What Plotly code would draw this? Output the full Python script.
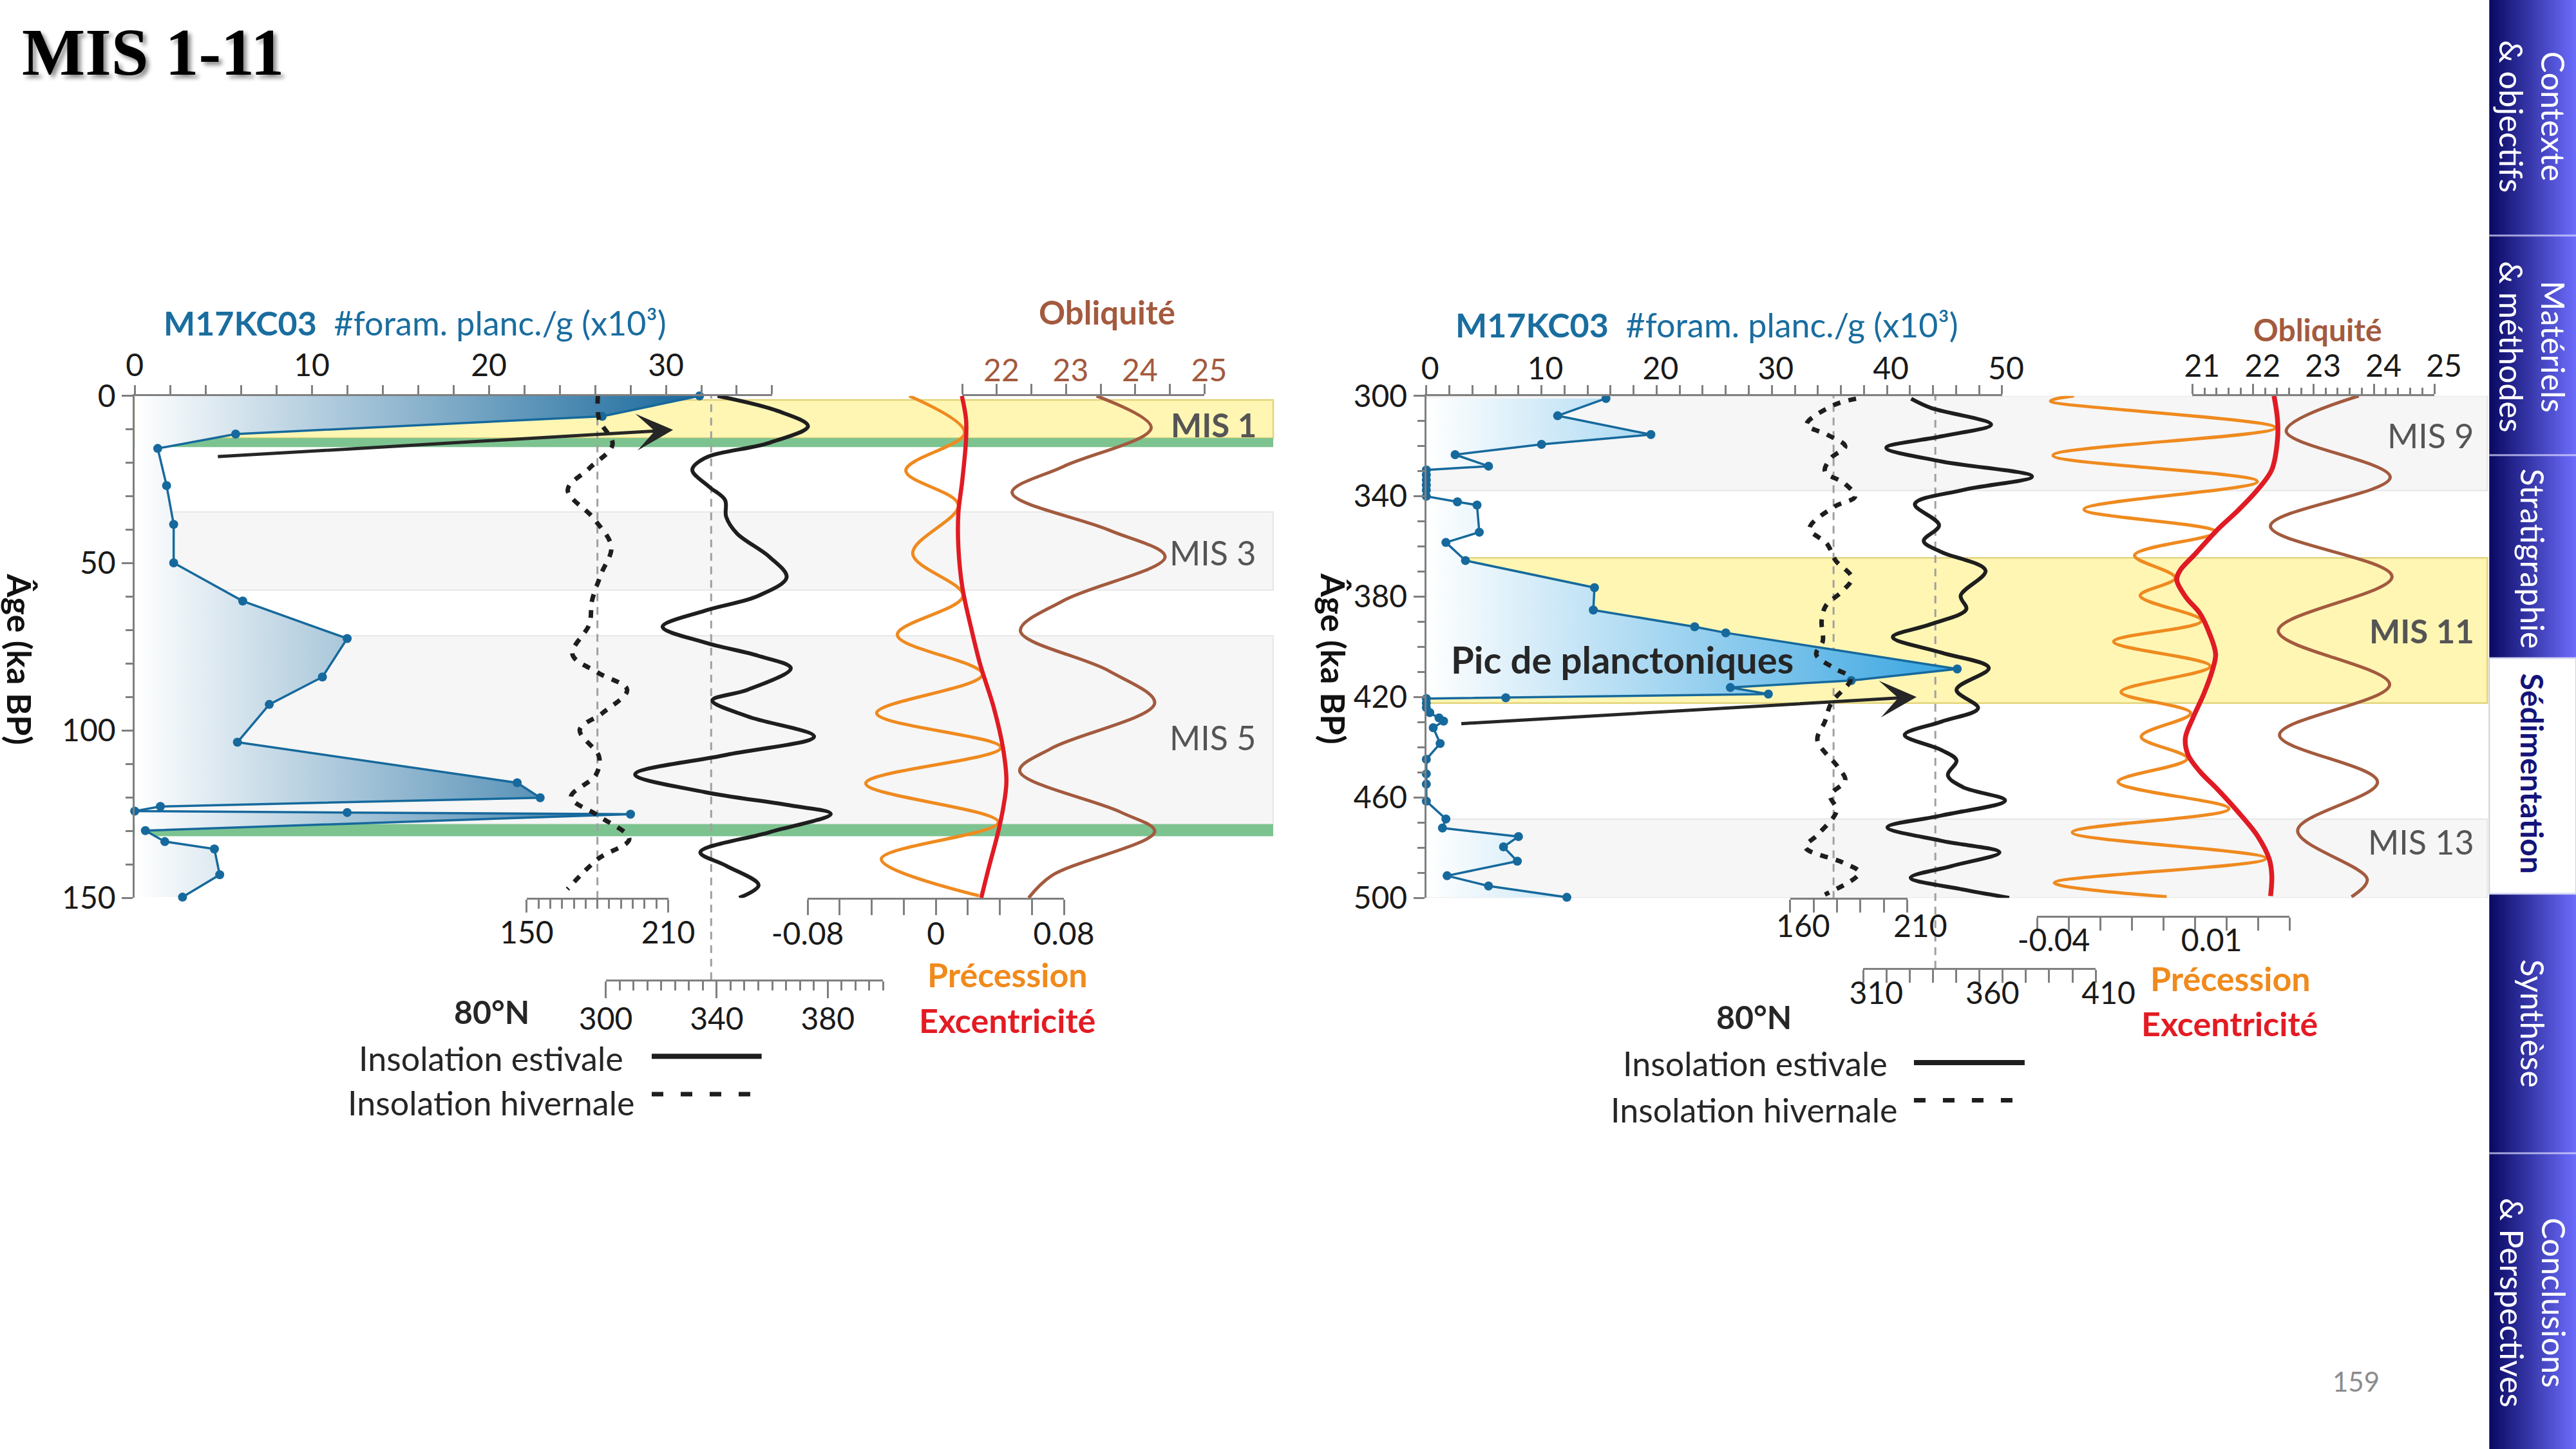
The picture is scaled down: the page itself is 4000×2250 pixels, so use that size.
import numpy as np
import plotly.graph_objects as go

# ---------------- DATA ----------------
# Left panel (MIS 1-5), ages in ka BP
L_foram_age = [0, 6.1, 11.4, 15.7, 26.8, 38.4, 49.9, 61.3, 72.5, 84.0, 92.2, 103.5, 115.6, 120.1,
               122.7, 124.1, 124.5, 125.0, 129.9, 133.2, 135.4, 143.1, 149.8]
L_foram_val = [31.9, 26.4, 5.7, 1.3, 1.8, 2.2, 2.2, 6.1, 12.0, 10.6, 7.6, 5.8, 21.6, 22.9,
               1.45, 0.0, 12.0, 28.0, 0.6, 1.7, 4.5, 4.8, 2.7]

L_winter_age = [0, 7.0, 14.5, 21.6, 28.1, 36.6, 45.1, 53.2, 61.2, 68.2, 77.2, 82.7, 87.8, 94.8,
                99.8, 107.8, 113.3, 119.9, 125.4, 132.4, 138.4, 147.4]
L_winter_val = [180.2, 180.7, 186.4, 176.6, 167.4, 178.4, 185.9, 181.6, 177.7, 176.6, 169.4, 180.2,
                192.6, 182.1, 172.5, 180.7, 179.3, 168.8, 180.2, 193.5, 180.2, 167.3]

L_summer_age = [0, 4.5, 9.0, 14.0, 18.6, 22.1, 27.1, 31.1, 36.1, 41.1, 48.1, 54.2, 59.7, 64.2, 69.0,
                73.7, 77.7, 81.4, 87.8, 91.0, 95.8, 101.8, 107.3, 113.1, 118.4, 122.4, 124.9, 130.4,
                136.4, 140.4, 146.2, 150.0]
L_summer_val = [340.3, 362.0, 372.9, 359.0, 335.7, 331.2, 337.2, 343.0, 343.4, 347.3, 359.0, 365.2,
                355.1, 335.7, 320.5, 335.7, 355.1, 366.7, 351.2, 338.4, 351.2, 375.1, 343.4, 310.6,
                335.7, 366.7, 381.1, 359.0, 334.1, 343.4, 355.1, 348.1]

L_prec_age = [0, 11.0, 22.3, 32.6, 47.1, 59.7, 71.4, 83.2, 94.8, 105.1, 115.8, 127.4, 138.4, 149.4]
L_prec_val = [-0.0166, 0.0180, -0.0187, 0.0141, -0.0144, 0.0170, -0.0240, 0.0291, -0.0369, 0.0406,
              -0.0437, 0.0391, -0.0340, 0.0270]

L_ecc_age = [0, 7.0, 13.0, 25.1, 35.1, 45.1, 57.2, 69.2, 80.2, 93.3, 105.3, 115.3, 123.4, 131.4, 140.4, 150.0]
L_ecc_val = [0.0163, 0.0189, 0.0189, 0.0166, 0.0141, 0.0141, 0.0166, 0.0220, 0.0277, 0.0363, 0.0420,
             0.0441, 0.0420, 0.0384, 0.0334, 0.0284]

L_obl_age = [0, 9.5, 21.1, 28.9, 40.1, 48.1, 61.2, 70.2, 82.2, 91.8, 105.3, 112.1, 124.4, 130.2, 143.4, 150.0]
L_obl_val = [23.44, 24.23, 22.96, 22.22, 23.62, 24.43, 22.96, 22.34, 23.62, 24.28, 22.79, 22.33,
             23.79, 24.28, 22.79, 22.46]

# Right panel (MIS 9-13)
R_foram_age = [301.0, 307.9, 315.4, 319.3, 323.4, 328.0, 329.5, 331.5, 333.5, 335.5, 337.5, 340.0,
               342.2, 343.5, 354.3, 358.4, 365.6, 376.4, 385.3, 392.0, 394.4, 408.8, 413.4, 416.2,
               418.8, 420.3, 420.6, 422.4, 424.2, 426.2, 428.3, 429.6, 432.2, 438.5, 444.8, 450.6,
               454.7, 461.5, 468.6, 472.2, 475.6, 479.7, 485.4, 491.2, 495.3, 499.8]
R_foram_val = [15.6, 11.4, 19.5, 10.0, 2.5, 5.4, 0, 0, 0, 0, 0, 0,
               2.7, 4.4, 4.6, 1.7, 3.4, 14.6, 14.5, 23.3, 26.0, 46.1, 36.9, 26.4,
               29.7, 6.9, 0, 0, 0, 0.3, 1.1, 1.5, 0.6, 1.2, 0, 0,
               0, 0, 1.7, 1.4, 8.0, 6.7, 7.9, 1.8, 5.4, 12.2]

R_winter_age = [301.1, 303.7, 311.4, 315.4, 320.1, 324.7, 330.1, 334.8, 340.1, 344.1, 352.8, 358.9,
                365.6, 372.5, 377.9, 383.6, 389.6, 397.7, 403.0, 408.4, 412.6, 422.4, 429.8, 437.1,
                447.8, 453.2, 459.2, 465.2, 474.6, 479.9, 486.0, 490.0, 498.7]
R_winter_val = [188.1, 178.5, 167.0, 175.7, 183.5, 177.5, 174.8, 183.1, 187.7, 178.9, 168.3, 175.7,
                179.4, 186.3, 182.1, 175.2, 173.4, 173.9, 171.1, 178.5, 185.8, 177.5, 174.8, 171.6,
                180.3, 183.5, 177.1, 179.8, 172.0, 166.5, 182.6, 189.5, 174.8]

R_summer_age = [301.1, 304.7, 311.4, 316.1, 320.7, 326.1, 332.1, 337.5, 343.1, 351.5, 357.8, 362.2,
                369.6, 379.6, 385.0, 391.0, 396.1, 402.3, 408.4, 417.1, 424.4, 429.8, 435.1, 441.1,
                445.2, 451.2, 455.9, 461.2, 467.2, 471.9, 477.3, 481.9, 487.3, 492.0, 496.7, 500.0]
R_summer_val = [330.6, 338.9, 365.0, 343.6, 319.9, 343.6, 382.6, 352.9, 332.2, 342.6, 336.0, 343.6,
                362.6, 351.9, 354.3, 338.9, 322.7, 343.6, 364.0, 350.1, 359.4, 343.6, 327.8, 343.6,
                350.1, 346.4, 352.9, 371.0, 343.6, 320.4, 343.6, 368.6, 348.2, 330.4, 352.9, 372.8]

R_prec_age = [300.0, 302.0, 312.7, 323.7, 334.1, 345.2, 354.2, 363.5, 372.5, 379.6, 389.6, 397.9,
              407.7, 418.0, 426.4, 435.8, 444.5, 453.8, 464.5, 473.9, 484.3, 494.0, 499.6]
R_prec_val = [-0.0283, -0.0357, 0.0355, -0.0349, 0.0298, -0.0251, 0.0166, -0.0091, 0.0038, -0.0073,
              0.0121, -0.0157, 0.0149, -0.0134, 0.0087, -0.0070, 0.0076, -0.0143, 0.0208, -0.0288,
              0.0325, -0.0345, 0.0011]

R_ecc_age = [300.0, 309.4, 317.4, 329.4, 337.5, 345.5, 353.5, 362.9, 369.6, 373.4, 380.2, 386.8, 394.8,
             402.9, 409.6, 418.9, 428.3, 436.4, 443.1, 449.8, 456.5, 465.9, 475.2, 484.6, 491.3, 499.3]
R_ecc_val = [0.0351, 0.0362, 0.0362, 0.0344, 0.0298, 0.0238, 0.0170, 0.0102, 0.0053, 0.0043, 0.0072,
             0.0117, 0.0147, 0.0166, 0.0155, 0.0128, 0.0094, 0.0070, 0.0079, 0.0117, 0.0170, 0.0238,
             0.0298, 0.0336, 0.0344, 0.0340]

R_obl_age = [300, 314.0, 332.4, 351.9, 372.0, 393.6, 415.0, 435.1, 453.8, 473.2, 492.6, 499.6]
R_obl_val = [23.75, 22.55, 24.27, 22.29, 24.30, 22.42, 24.26, 22.44, 24.06, 22.74, 23.89, 23.63]

# Reference (dashed) insolation levels
L_winter_ref, L_summer_ref = 180.0, 338.0
R_winter_ref, R_summer_ref = 178.5, 341.0

# Marine isotope stage bands (age ranges)
L_bands = [("yellow", 1.2, 12.6), ("green", 12.6, 15.3), ("gray", 34.7, 58.0),
           ("gray", 71.7, 128.0), ("green", 128.0, 131.6)]
R_bands = [("gray", 300.0, 337.7), ("yellow", 364.5, 422.4), ("gray", 468.6, 500.0)]

nav_items = ["Contexte<br>& objectifs", "Matériels<br>& méthodes", "Stratigraphie",
             "Sédimentation", "Synthèse", "Conclusions<br>& Perspectives"]

# ---------------- LAYOUT HELPERS ----------------
W, H = 4000, 2250
FONT = "Lato"


def fx(xm):
    return xm / 1568.0


def fy(ym):
    return 1.0 - ym / 882.0


GRAY = "#7f7f7f"
BLACK = "#1e1e1e"
BLUE = "#16699c"
ORANGE = "#ef8a1f"
RED = "#e01b24"
BROWN = "#a35a3e"

fig = go.Figure()


def curve(x, y, xa, ya, color, width, dash=None):
    fig.add_trace(go.Scatter(x=x, y=y, xaxis=xa, yaxis=ya, mode="lines",
                             line=dict(color=color, width=width, shape="spline", smoothing=1.0, dash=dash),
                             hoverinfo="skip", showlegend=False))


# Foram traces with gradient fill
fig.add_trace(go.Scatter(x=L_foram_val, y=L_foram_age, xaxis="x", yaxis="y", mode="lines+markers",
                         line=dict(color=BLUE, width=3.5), marker=dict(color=BLUE, size=14),
                         fill="tozerox",
                         fillgradient=dict(type="horizontal", start=0, stop=32,
                                           colorscale=[[0, "rgba(255,255,255,1)"], [1, "#17679b"]]),
                         cliponaxis=False, hoverinfo="skip", showlegend=False))
fig.add_trace(go.Scatter(x=R_foram_val, y=R_foram_age, xaxis="x6", yaxis="y2", mode="lines+markers",
                         line=dict(color=BLUE, width=3.5), marker=dict(color=BLUE, size=14),
                         fill="tozerox",
                         fillgradient=dict(type="horizontal", start=0, stop=46,
                                           colorscale=[[0, "rgba(255,255,255,1)"], [1, "#36a4e0"]]),
                         cliponaxis=False, hoverinfo="skip", showlegend=False))

# Insolation and orbital curves
curve(L_winter_val, L_winter_age, "x2", "y", BLACK, 7, "12px,13px")
curve(L_summer_val, L_summer_age, "x3", "y", BLACK, 6)
curve(L_prec_val, L_prec_age, "x4", "y", ORANGE, 5)
curve(L_ecc_val, L_ecc_age, "x4", "y", RED, 6.5)
curve(L_obl_val, L_obl_age, "x5", "y", BROWN, 5)

curve(R_winter_val, R_winter_age, "x7", "y2", BLACK, 7, "12px,13px")
curve(R_summer_val, R_summer_age, "x8", "y2", BLACK, 6)
curve(R_prec_val, R_prec_age, "x9", "y2", ORANGE, 5)
curve(R_ecc_val, R_ecc_age, "x9", "y2", RED, 7.5)
curve(R_obl_val, R_obl_age, "x10", "y2", BROWN, 5)

# ---------------- AXES ----------------
YDOM = [fy(546.5), fy(241.0)]
TICKFONT = dict(size=48, color="#1a1a1a", family=FONT)


def xax(dom, rng, side, tickvals, ticktext, minor_vals=None, ticklen=16, minor_len=12,
        anchor="y", position=None, tickcolor=None, standoff=0, shift=0):
    d = dict(domain=[fx(dom[0]), fx(dom[1])], range=list(rng), side=side, automargin=False,
             showline=True, linecolor=GRAY, linewidth=3, ticks="outside", tickcolor=GRAY,
             tickwidth=3, ticklen=ticklen, showgrid=False, zeroline=False,
             tickmode="array", tickvals=tickvals, ticktext=ticktext,
             ticklabelstandoff=standoff, ticklabelshift=shift,
             tickfont=dict(TICKFONT, color=tickcolor or "#1a1a1a"), fixedrange=True)
    if minor_vals is not None:
        d["minor"] = dict(tickmode="array", tickvals=minor_vals, ticks="outside", ticklen=minor_len,
                          tickwidth=3, tickcolor=GRAY, showgrid=False)
    if position is None:
        d["anchor"] = anchor
    else:
        d["anchor"] = "free"
        d["position"] = position
    return d


def lbl(vals, keep):
    out = []
    for v in vals:
        s = ""
        for k, t in keep:
            if abs(v - k) < 1e-9:
                s = t
        out.append(s)
    return out


# Left axes
v = [0, 10, 20, 30]
xaxis = xax((82, 470), (0, 36), "top", v, [str(t) for t in v], list(np.arange(0, 36.1, 2)), 14, 14,
            standoff=-5)
xaxis2 = xax((320.6, 406.7), (150, 210), "bottom", [150, 210], ["150", "210"],
             list(np.arange(150, 210.1, 5)), 20, 14, standoff=-10)
v = [300, 320, 340, 360, 380, 400]
xaxis3 = xax((368.7, 537.6), (300, 400), "bottom", v, ["300", "", "340", "", "380", ""],
             list(np.arange(300, 400.1, 5)), 26, 14, position=fy(596.5), standoff=-8)
v = [round(t, 2) for t in np.arange(-0.08, 0.0801, 0.02)]
xaxis4 = xax((491.6, 647.6), (-0.08, 0.08), "bottom", v,
             lbl(v, [(-0.08, "-0.08"), (0.0, "0"), (0.08, "0.08")]), None, 24, standoff=-12)
v = [round(t, 1) for t in np.arange(21.5, 25.01, 0.5)]
xaxis5 = xax((585.7, 733.2), (21.5, 25), "top", v,
             lbl(v, [(22, "22"), (23, "23"), (24, "24"), (25, "25")]), None, 16, tickcolor=BROWN,
             standoff=-15, shift=7)

# Right axes
v = [0, 10, 20, 30, 40, 50]
xaxis6 = xax((868.2, 1218.7), (0, 50), "top", v, [str(t) for t in v], list(np.arange(0, 50.1, 2)), 14, 14,
             anchor="y2", standoff=-10, shift=6)
v = list(np.arange(160, 210.1, 10))
xaxis7 = xax((1089.7, 1161.0), (160, 210), "bottom", v, lbl(v, [(160, "160"), (210, "210")]), None, 20,
             anchor="y2", standoff=-20, shift=20)
v = list(np.arange(310, 410.1, 10))
xaxis8 = xax((1134.2, 1275.6), (310, 410), "bottom", v, lbl(v, [(310, "310"), (360, "360"), (410, "410")]),
             None, 20, position=fy(589.6), standoff=-25, shift=20)
v = [round(t, 2) for t in np.arange(-0.04, 0.0401, 0.01)]
xaxis9 = xax((1239.9, 1393.6), (-0.04, 0.04), "bottom", v, lbl(v, [(-0.04, "-0.04"), (0.01, "0.01")]),
             None, 20, position=fy(557.7), standoff=-25, shift=26)
v = [21, 22, 23, 24, 25]
xaxis10 = xax((1334.5, 1481.8), (21, 25), "top", v, [str(t) for t in v], list(np.arange(21, 25.01, 0.2)),
              16, 10, anchor="y2", standoff=-8, shift=15)


def yax(rng, tickvals, minor_vals, anchor):
    return dict(domain=YDOM, range=list(rng), anchor=anchor, side="left", showline=True, linecolor=GRAY,
                linewidth=3, ticks="outside", tickcolor=GRAY, tickwidth=3, ticklen=17, automargin=False,
                showgrid=False, zeroline=False, tickmode="array", tickvals=tickvals,
                ticktext=[str(t) for t in tickvals], tickfont=TICKFONT, fixedrange=True,
                minor=dict(tickmode="array", tickvals=minor_vals, ticks="outside", ticklen=11,
                           tickwidth=3, tickcolor=GRAY, showgrid=False))


yaxis = yax((150, 0), [0, 50, 100, 150], list(range(0, 151, 10)), "x")
yaxis2 = yax((500, 300), [300, 340, 380, 420, 460, 500], list(range(300, 501, 10)), "x6")

# ---------------- SHAPES ----------------
shapes = []
BAND_STYLE = {"yellow": ("#fff6b4", "#e2d47c", 2.5), "green": ("#7cc390", None, 0),
              "gray": ("#f6f6f6", "#e6e6e6", 2)}


def add_bands(bands, yref, x0, x1):
    for kind, a0, a1 in bands:
        fc, lc, lw = BAND_STYLE[kind]
        shapes.append(dict(type="rect", xref="paper", yref=yref, x0=fx(x0), x1=fx(x1), y0=a0, y1=a1,
                           fillcolor=fc, line=dict(color=lc or fc, width=lw), layer="below"))


add_bands(L_bands, "y", 82, 775)
add_bands(R_bands, "y2", 868.2, 1514)


def vref(xref, xv, ybot):
    shapes.append(dict(type="line", xref=xref, yref="paper", x0=xv, x1=xv, y0=fy(ybot), y1=fy(241),
                       line=dict(color="#a0a0a0", width=3, dash="12px,9px"), layer="below"))


vref("x2", L_winter_ref, 547)
vref("x3", L_summer_ref, 596.5)
vref("x7", R_winter_ref, 547)
vref("x8", R_summer_ref, 589.6)

# legend samples
for (xa, xb, ys, dash) in [(396.7, 463.6, 643, None), (396.7, 457.5, 666, "18px,27px"),
                           (1165, 1232.4, 646.8, None), (1165, 1226.5, 669.7, "18px,27px")]:
    shapes.append(dict(type="line", xref="paper", yref="paper", x0=fx(xa), x1=fx(xb), y0=fy(ys), y1=fy(ys),
                       line=dict(color=BLACK, width=7 if dash else 8, dash=dash)))

# navigation bar (horizontal gradient made of strips)
NX0 = 1515.2
n = 48
c0 = np.array([10, 10, 100])
c1 = np.array([108, 108, 252])
for i in range(n):
    t = i / (n - 1)
    c = (c0 + (c1 - c0) * t).astype(int)
    xa = NX0 + (1568 - NX0) * i / n
    xb = NX0 + (1568 - NX0) * (i + 1) / n + 0.3
    shapes.append(dict(type="rect", xref="paper", yref="paper", x0=fx(xa), x1=fx(min(xb, 1568)),
                       y0=0, y1=1, fillcolor="rgb(%d,%d,%d)" % tuple(c), line=dict(width=0)))
shapes.append(dict(type="rect", xref="paper", yref="paper", x0=fx(NX0), x1=1, y0=fy(544), y1=fy(400.6),
                   fillcolor="white", line=dict(color="#cfcfcf", width=2)))
for yb in [143.4, 277, 400.6, 544, 702]:
    shapes.append(dict(type="line", xref="paper", yref="paper", x0=fx(NX0), x1=1, y0=fy(yb), y1=fy(yb),
                       line=dict(color="rgba(220,220,255,0.7)", width=3)))

# ---------------- ANNOTATIONS ----------------
ann = []


def txt(text, xm, ym, size, color="#262626", xanchor="center", angle=0, family=FONT, **kw):
    ann.append(dict(text=text, x=fx(xm), y=fy(ym), xref="paper", yref="paper", showarrow=False,
                    xanchor=xanchor, yanchor="middle", textangle=angle,
                    font=dict(size=size, color=color, family=family, **kw)))


txt("<b>MIS 1-11</b>", 12.5, 31.5, 104, "#000000", "left", family="Liberation Serif",
    shadow="5px 5px 6px rgba(0,0,0,0.45)")

hdr = "<b>M17KC03</b>\u00a0\u00a0#foram. planc./g (x10³)"
txt(hdr, 252.7, 196.2, 52, "#1a6d9f")
txt(hdr, 1039.0, 197.5, 52, "#1a6d9f")
txt("<b>Obliquité</b>", 673.9, 190, 51, BROWN)
txt("<b>Obliquité</b>", 1411.0, 200.5, 48, BROWN)

txt("<b>Âge (ka BP)</b>", 12.0, 401, 52, "#111111", angle=90)
txt("<b>Âge (ka BP)</b>", 812.0, 401, 52, "#111111", angle=90)

txt("<b>MIS 1</b>", 765.7, 258.7, 51, "#555555", "right")
txt("MIS 3", 765.7, 336.3, 52, "#555555", "right")
txt("MIS 5", 765.7, 448.8, 52, "#555555", "right")
txt("MIS 9", 1506.7, 265.0, 52, "#555555", "right")
txt("<b>MIS 11</b>", 1506.7, 383.8, 51, "#555555", "right")
txt("MIS 13", 1506.7, 512.5, 52, "#555555", "right")

txt("<b>Pic de planctoniques</b>", 882.4, 401.2, 58, "#262626", "left")

txt("<b>Précession</b>", 613.3, 593, 52, "#f08a1c")
txt("<b>Excentricité</b>", 613.0, 621, 52, "#e31b23")
txt("<b>Précession</b>", 1357.7, 595.5, 52, "#f08a1c")
txt("<b>Excentricité</b>", 1357.0, 622.7, 52, "#e31b23")

txt("<b>80°N</b>", 299.3, 616, 50, "#262626")
txt("Insolation estivale", 299.0, 644, 52, "#262626")
txt("Insolation hivernale", 299.0, 671, 52, "#262626")
txt("<b>80°N</b>", 1067.8, 619, 50, "#262626")
txt("Insolation estivale", 1068.3, 647, 52, "#262626")
txt("Insolation hivernale", 1067.5, 675.5, 52, "#262626")

txt("159", 1434, 841, 42, "#8c8c8c")

# arrows
for hx, hy in [(409.7, 261.7), (1166.6, 424.2)]:
    ann.append(dict(text="", x=fx(hx), y=fy(hy), xref="paper", yref="paper", showarrow=True,
                    ax=-708.4, ay=41.6, axref="pixel", ayref="pixel", arrowhead=3, arrowsize=1.9,
                    arrowwidth=5, arrowcolor="#262626", standoff=0))

# navigation texts
nav_y = [71, 211, 340, 471, 623, 793]
for label, ym in zip(nav_items, nav_y):
    if label == "Sédimentation":
        txt("<b>Sédimentation</b>", 1541.7, ym, 48, "#14147a", angle=90)
    else:
        txt(label, 1541.7, ym, 50, "#ffffff", angle=90)

fig.update_layout(
    width=W, height=H, margin=dict(l=0, r=0, t=0, b=0, pad=0, autoexpand=False),
    paper_bgcolor="white", plot_bgcolor="rgba(0,0,0,0)",
    font=dict(family=FONT, size=48, color="#262626"),
    showlegend=False,
    xaxis=xaxis, xaxis2=xaxis2, xaxis3=xaxis3, xaxis4=xaxis4, xaxis5=xaxis5,
    xaxis6=xaxis6, xaxis7=xaxis7, xaxis8=xaxis8, xaxis9=xaxis9, xaxis10=xaxis10,
    yaxis=yaxis, yaxis2=yaxis2,
    shapes=shapes, annotations=ann,
)

fig.write_html("out.html", config={"displayModeBar": False, "staticPlot": True},
               post_script="document.body.style.margin='0';document.body.style.overflow='hidden';")
